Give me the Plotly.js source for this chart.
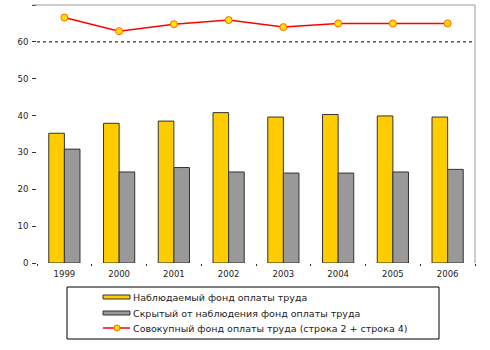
<!DOCTYPE html>
<html>
<head>
<meta charset="utf-8">
<script src="https://cdn.plot.ly/plotly-3.0.1.min.js"></script>
<style>html,body{margin:0;padding:0;background:#fff;}#chart{width:490px;height:350px;}</style>
</head>
<body>
<div id="chart"></div>
<script>
const years = ["1999","2000","2001","2002","2003","2004","2005","2006"];
const observed = [35.2, 37.9, 38.5, 40.8, 39.6, 40.3, 39.9, 39.6];
const hidden = [30.9, 24.7, 25.9, 24.7, 24.4, 24.4, 24.7, 25.4];
const total = [66.6, 62.9, 64.8, 65.9, 64.0, 65.0, 65.0, 65.0];
const names = [
  "Наблюдаемый фонд оплаты труда",
  "Скрытый от наблюдения фонд оплаты труда",
  "Совокупный фонд оплаты труда (строка 2 + строка 4)"
];
const refLevel = 60;

const colYellow = "#FFCC00", colGray = "#999999", colRed = "#FF0000", colMarker = "#FFE000";
const font = {family: "DejaVu Sans, Liberation Sans, Arial, sans-serif", size: 8.5, color: "#222"};

const M = {l: 37, r: 15, t: 5, b: 87};
const W = 490, H = 350;
const pw = W - M.l - M.r, ph = H - M.t - M.b;
const px = x => (x - M.l) / pw;
const py = y => (H - M.b - y) / ph;

const traces = [
  {type: "bar", x: years, y: observed, name: names[0], showlegend: false,
   marker: {color: colYellow, line: {color: "#333", width: 1}}},
  {type: "bar", x: years, y: hidden, name: names[1], showlegend: false,
   marker: {color: colGray, line: {color: "#333", width: 1}}},
  {type: "scatter", mode: "lines+markers", x: years, y: total, name: names[2], showlegend: false,
   line: {color: colRed, width: 1.5},
   marker: {color: colMarker, size: 7, line: {color: "#FF6600", width: 1}}}
];

// custom legend (box, symbols, texts)
const legRows = [297, 313, 328];
const shapes = [
  {type: "line", xref: "paper", yref: "y", x0: 0, x1: 1, y0: refLevel, y1: refLevel,
   line: {color: "#000", width: 1, dash: "dot"}},
  {type: "line", xref: "paper", yref: "paper", x0: px(33), x1: 1, y0: 1, y1: 1,
   line: {color: "#999", width: 1}},
  {type: "line", xref: "paper", yref: "paper", x0: 1, x1: 1, y0: 0, y1: 1,
   line: {color: "#999", width: 1}},
  {type: "rect", xref: "paper", yref: "paper", x0: px(67), x1: px(439), y0: py(287), y1: py(339),
   line: {color: "#000", width: 1}},
  {type: "rect", xref: "paper", yref: "paper", x0: px(103), x1: px(130), y0: py(legRows[0] - 2), y1: py(legRows[0] + 2),
   fillcolor: colYellow, line: {color: "#333", width: 1}},
  {type: "rect", xref: "paper", yref: "paper", x0: px(103), x1: px(130), y0: py(legRows[1] - 2), y1: py(legRows[1] + 2),
   fillcolor: colGray, line: {color: "#333", width: 1}},
  {type: "line", xref: "paper", yref: "paper", x0: px(103), x1: px(130), y0: py(legRows[2]), y1: py(legRows[2]),
   line: {color: colRed, width: 1.5}},
  {type: "circle", xref: "paper", yref: "paper", x0: px(114), x1: px(120), y0: py(legRows[2] - 3), y1: py(legRows[2] + 3),
   fillcolor: colMarker, line: {color: "#FF6600", width: 1}}
];
const annotations = names.map((n, i) => ({
  xref: "paper", yref: "paper", x: px(131), y: py(legRows[i]), xanchor: "left", yanchor: "middle",
  text: n, showarrow: false,
  font: {family: "DejaVu Sans, Liberation Sans, Arial, sans-serif", size: 9.5, color: "#222"}
}));

const layout = {
  width: W, height: H,
  margin: M,
  paper_bgcolor: "#fff", plot_bgcolor: "#fff",
  font: font,
  barmode: "group", bargap: 0.43, bargroupgap: 0,
  showlegend: false,
  xaxis: {type: "category", showline: false, showgrid: false, zeroline: false,
          ticks: "outside", tickson: "boundaries", ticklen: 2, tickcolor: "#333",
          ticklabelstandoff: 4, tickfont: font},
  yaxis: {range: [0, 70], dtick: 10, showline: false, showgrid: false, zeroline: false,
          ticks: "outside", ticklen: 4, tickcolor: "#333", ticklabelstandoff: 2, tickfont: font},
  shapes: shapes,
  annotations: annotations
};

Plotly.newPlot("chart", traces, layout, {displayModeBar: false, staticPlot: true});
</script>
</body>
</html>
